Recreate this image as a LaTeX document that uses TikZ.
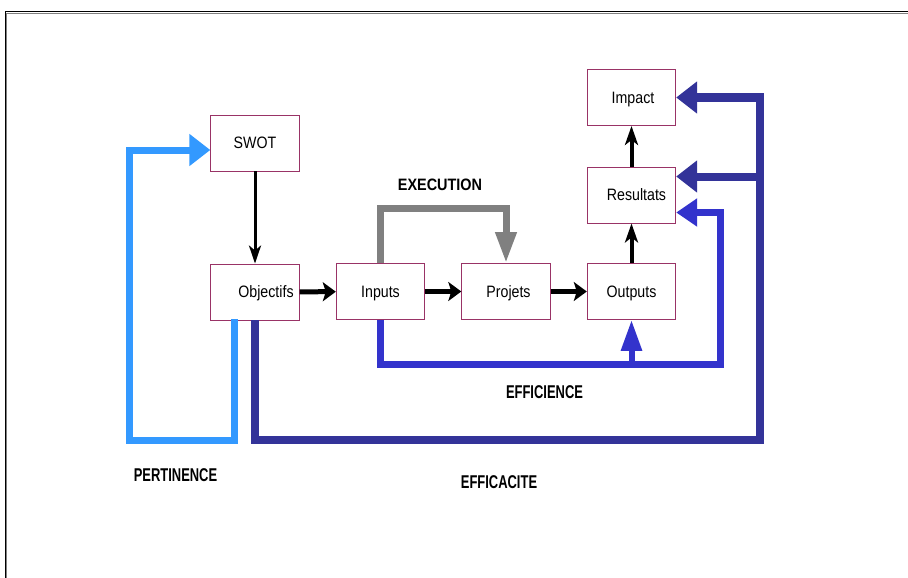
\documentclass[tikz,border=0pt]{standalone}
\usepackage{fontspec}
\setmainfont{Liberation Sans}
\usepackage{graphicx}
\usetikzlibrary{arrows.meta}
\definecolor{boxc}{HTML}{993366}
\definecolor{lightb}{HTML}{3399FF}
\definecolor{darkb}{HTML}{333399}
\definecolor{medb}{HTML}{3333CC}
\definecolor{greyc}{HTML}{808080}
\newcommand{\boxtxt}[1]{\fontsize{16.5}{16.5}\selectfont\scalebox{0.86}[1]{#1}}
\newcommand{\lbltxt}[2]{\fontsize{18.5}{18.5}\selectfont\bfseries\scalebox{#1}[1]{#2}}
\begin{document}
\begin{tikzpicture}[x=1pt,y=-1pt,
  procbox/.style={draw=boxc,line width=0.9pt,minimum width=88.5pt,minimum height=56pt,inner sep=0pt,text height=11.8pt,text depth=0pt,fill=white},
  lbl/.style={inner sep=0pt,text height=13.3pt,text depth=0pt},
  blkthin/.style={line width=3pt,-{Stealth[length=18pt,width=12pt,inset=5pt]}},
  blkthick/.style={line width=5pt,-{Stealth[length=13pt,width=19pt,inset=3pt]}},
  blkmid/.style={line width=4pt,-{Stealth[length=19pt,width=13pt,inset=5pt]}},
  bigtip/.style={-{Triangle[length=21pt,width=31pt]}},
  narrowtip/.style={-{Triangle[length=31pt,width=20pt]}},
  loopline/.style={line join=miter}]
\useasboundingbox (0,0) rectangle (908,578);
% frame
\draw[black,line width=1pt] (5,578) -- (5,12) -- (908,12);
\draw[greyc,line width=1pt] (6.5,578) -- (6.5,13.5) -- (908,13.5);
% boxes
\node[procbox] (swot) at (255,143) {\boxtxt{SWOT}};
\node[procbox] (obj) at (255,292) {\hspace*{22pt}\boxtxt{Objectifs}};
\node[procbox] (inp) at (380.5,291.5) {\boxtxt{Inputs}};
\node[procbox] (proj) at (506,291.5) {\hspace*{5pt}\boxtxt{Projets}};
\node[procbox] (out) at (631.5,291.5) {\boxtxt{Outputs}};
\node[procbox] (res) at (631.5,195) {\hspace*{10pt}\boxtxt{Resultats}};
\node[procbox] (imp) at (631.5,97.5) {\hspace*{3pt}\boxtxt{Impact}};
% corner coordinates
\coordinate (g1) at (380.5,208);
\coordinate (l1) at (234,440);
\coordinate (l2) at (129.5,440);
\coordinate (l3) at (129.5,150);
\coordinate (d1) at (255,440);
\coordinate (d2) at (760,440);
\coordinate (d3) at (760,97.5);
\coordinate (d4) at (760,176.5);
\coordinate (m1) at (380.5,364);
\coordinate (m2) at (720,364);
\coordinate (m3) at (720,212.5);
% black flow arrows
\draw[blkthin] (swot) -- (obj);
\draw[blkthick] (obj) -- (inp);
\draw[blkthick] (inp) -- (proj);
\draw[blkthick] (proj) -- (out);
\draw[blkmid] (out) -- (res);
\draw[blkmid] (res) -- (imp);
% execution
\draw[greyc,line width=7pt,loopline,narrowtip] (inp.north) -- (g1) -| (proj.north);
% pertinence
\draw[lightb,line width=7pt,loopline,bigtip] ([xshift=-21pt,yshift=1pt]obj.south) -- (l1) -- (l2) -- (l3) -- (l3 -| swot.west);
% efficacite
\draw[darkb,line width=8pt,loopline,bigtip] (obj.south) -- (d1) -- (d2) -- (d3) -- (imp.east);
\draw[darkb,line width=8pt,bigtip] (d4) -- (d4 -| res.east);
% efficience
\draw[medb,line width=7pt,loopline,-{Triangle[length=21pt,width=27pt]}] (inp.south) -- (m1) -- (m2) -- (m3) -- (m3 -| res.east);
\draw[medb,line width=6pt,narrowtip] (out.south |- m1) -- (out.south);
% labels
\node[lbl] (lexec) at (440,184) {\fontsize{16.5}{16.5}\selectfont\bfseries\scalebox{0.875}[1]{EXECUTION}};
\node[lbl] (lpert) at (175.5,475) {\lbltxt{0.70}{PERTINENCE}};
\node[lbl] (leffi) at (544.5,391.5) {\lbltxt{0.70}{EFFICIENCE}};
\node[lbl] (leffa) at (499,481.5) {\lbltxt{0.70}{EFFICACITE}};
\end{tikzpicture}
\end{document}
